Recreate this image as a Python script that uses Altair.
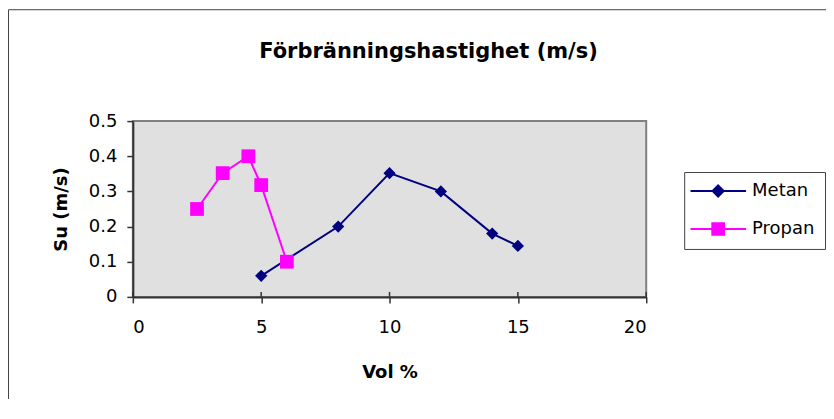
import altair as alt
import pandas as pd

# ---- data ----
metan_x = [5, 8, 10, 12, 14, 15]
metan_y = [0.06, 0.20, 0.352, 0.30, 0.18, 0.145]
propan_x = [2.5, 3.5, 4.5, 5, 6]
propan_y = [0.25, 0.352, 0.40, 0.318, 0.10]
series_names = ["Metan", "Propan"]
series_colors = ["#000080", "#FF00FF"]
x_ticks = [0, 5, 10, 15, 20]
y_ticks = [0, 0.1, 0.2, 0.3, 0.4, 0.5]

rows = [{"series": "Metan", "x": a, "y": b} for a, b in zip(metan_x, metan_y)]
rows += [{"series": "Propan", "x": a, "y": b} for a, b in zip(propan_x, propan_y)]
df = pd.DataFrame(rows)
ticks_df = pd.DataFrame({"v": x_ticks})

FONT = "DejaVu Sans"
W, H = 514, 176

xscale = alt.Scale(domain=[0, 20], nice=False, zero=False)
yscale = alt.Scale(domain=[0, 0.5], nice=False)

xaxis = alt.Axis(values=x_ticks, title="Vol %", grid=False,
                 labelFont=FONT, labelFontSize=18, labelColor="black",
                 titleFont=FONT, titleFontSize=18, titleFontWeight="bold",
                 titleColor="black", domainColor="#333333", domainWidth=2,
                 tickColor="#333333", tickSize=6, tickWidth=1.5,
                 labelPadding=16, titlePadding=27)
yaxis = alt.Axis(values=y_ticks, format=".1~f", title="Su (m/s)", grid=False,
                 labelFont=FONT, labelFontSize=18, labelColor="black",
                 titleFont=FONT, titleFontSize=18, titleFontWeight="bold",
                 titleColor="black", domainColor="#333333", domainWidth=2,
                 tickColor="#333333", tickSize=6, tickWidth=1.5,
                 labelPadding=10, titlePadding=18)

X = alt.X("x:Q", scale=xscale, axis=xaxis)
Y = alt.Y("y:Q", scale=yscale, axis=yaxis)
color_scale = alt.Scale(domain=series_names, range=series_colors)

base = alt.Chart(df)

border = alt.Chart(alt.Data(values=[{}])).mark_rect(
    filled=False, stroke="#404040", strokeWidth=1, clip=False
).encode(x=alt.value(-124.5), y=alt.value(-111.5),
         x2=alt.value(705), y2=alt.value(300))

path_diamond = "M-4.25,0H4.3M0,-0.85L0.85,0L0,0.85L-0.85,0Z"
path_square = "M-4.25,0H4.3M-0.9,-0.9H0.9V0.9H-0.9Z"

leg = alt.Legend(title=None, orient="none", legendX=552, legendY=51,
                 padding=10, strokeColor="#404040", fillColor="white",
                 symbolSize=169, symbolStrokeWidth=2, symbolOpacity=1,
                 symbolOffset=15, labelOffset=25, rowPadding=18,
                 labelFont=FONT, labelFontSize=18, labelColor="black",
                 labelLimit=200)

# legend carrier: same series, shifted outside the y domain and clipped away
legend_layer = base.transform_calculate(yo="datum.y + 10").mark_line(
    strokeWidth=2, clip=True
).encode(
    x=X, y=alt.Y("yo:Q", scale=yscale, axis=yaxis),
    stroke=alt.Stroke("series:N", scale=color_scale, legend=leg),
    shape=alt.Shape("series:N", scale=alt.Scale(domain=series_names,
                                                range=[path_diamond, path_square]),
                    legend=leg),
    fill=alt.Fill("series:N", scale=color_scale, legend=leg),
    detail="series:N")

lines = base.mark_line(strokeWidth=2).encode(
    x=X, y=Y,
    color=alt.Color("series:N", scale=color_scale, legend=None),
    detail="series:N")

pts_metan = base.transform_filter(alt.datum.series == "Metan").mark_point(
    shape="diamond", filled=True, size=150, opacity=1, color="#000080"
).encode(x=X, y=Y)
pts_propan = base.transform_filter(alt.datum.series == "Propan").mark_point(
    shape="square", filled=True, size=190, opacity=1, color="#FF00FF"
).encode(x=X, y=Y)

inner_ticks = alt.Chart(ticks_df).mark_rule(color="#333333", strokeWidth=1.5).encode(
    x=alt.X("v:Q", scale=xscale, axis=xaxis), y=alt.value(H), y2=alt.value(H - 5))

chart = alt.layer(border, legend_layer, lines, inner_ticks, pts_metan, pts_propan).properties(
    width=W, height=H,
    title=alt.TitleParams("Förbränningshastighet (m/s)", font=FONT, fontSize=21,
                          fontWeight="bold", color="black", anchor="middle",
                          dx=39, offset=-53),
    autosize=alt.AutoSizeParams(type="none"),
    padding={"left": 125, "top": 113, "right": 180, "bottom": 102},
    background="white",
).configure_view(fill="#E0E0E0", stroke="#808080", strokeWidth=2)

chart.save("out.html", embed_options={"renderer": "svg", "actions": False})
